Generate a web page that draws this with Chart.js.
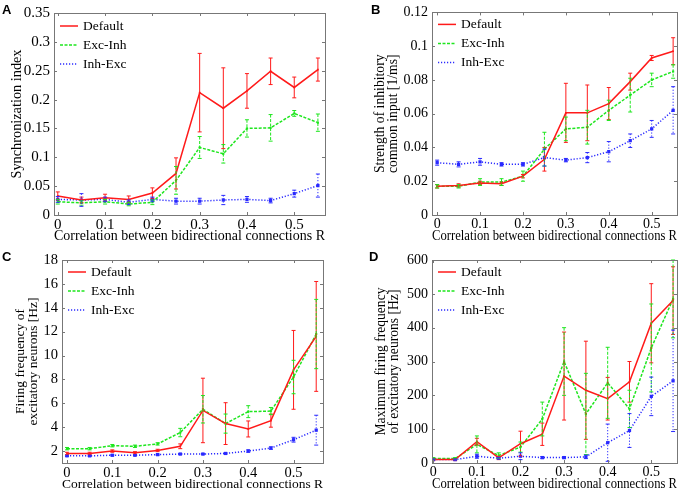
<!DOCTYPE html>
<html>
<head>
<meta charset="utf-8">
<script src="https://cdn.jsdelivr.net/npm/chart.js@4/dist/chart.umd.min.js"></script>
<style>
  body { margin: 0; background: #fff; }
  #wrap { position: relative; width: 689px; height: 493px; overflow: hidden; }
  canvas { position: absolute; }
  .tag { position: absolute; font: bold 13px "Liberation Sans", Arial, sans-serif; color: #000; }
</style>
</head>
<body>
<div id="wrap">
  <canvas id="chartA" width="345" height="245" style="left:0;top:0"></canvas>
  <canvas id="chartB" width="344" height="245" style="left:345px;top:0"></canvas>
  <canvas id="chartC" width="345" height="248" style="left:0;top:245px"></canvas>
  <canvas id="chartD" width="344" height="248" style="left:345px;top:245px"></canvas>
  <div class="tag" style="left:2px;top:2px">A</div>
  <div class="tag" style="left:371px;top:2px">B</div>
  <div class="tag" style="left:2px;top:249px">C</div>
  <div class="tag" style="left:369px;top:249px">D</div>
</div>
<script>
// x values (correlation R) and tick labels
const R = [0, 0.05, 0.1, 0.15, 0.2, 0.25, 0.3, 0.35, 0.4, 0.45, 0.5, 0.55];
const xTicks = [0, 0.1, 0.2, 0.3, 0.4, 0.5];
const seriesNames = ['Default', 'Exc-Inh', 'Inh-Exc'];

// A: synchronization index
const syncDefault = [0.033, 0.026, 0.030, 0.027, 0.038, 0.072, 0.212, 0.185, 0.215, 0.249, 0.221, 0.252];
const syncDefaultErr = [0.007, 0.005, 0.006, 0.006, 0.009, 0.027, 0.068, 0.070, 0.030, 0.023, 0.018, 0.020];
const syncExcInh = [0.023, 0.021, 0.023, 0.019, 0.022, 0.060, 0.117, 0.106, 0.150, 0.151, 0.176, 0.160];
const syncExcInhErr = [0.004, 0.004, 0.004, 0.003, 0.004, 0.024, 0.019, 0.016, 0.015, 0.023, 0.005, 0.015];
const syncInhExc = [0.027, 0.026, 0.027, 0.022, 0.027, 0.024, 0.024, 0.026, 0.027, 0.025, 0.037, 0.051];
const syncInhExcErr = [0.005, 0.011, 0.004, 0.004, 0.004, 0.005, 0.005, 0.008, 0.005, 0.004, 0.006, 0.020];
const syncTicks = [0, 0.05, 0.1, 0.15, 0.2, 0.25, 0.3, 0.35];

// B: strength of inhibitory common input
const inhDefault = [0.017, 0.0175, 0.019, 0.0185, 0.023, 0.033, 0.0605, 0.0605, 0.066, 0.079, 0.093, 0.097];
const inhDefaultErr = [0.001, 0.001, 0.001, 0.001, 0.001, 0.007, 0.0175, 0.0165, 0.0095, 0.005, 0.0015, 0.008];
const inhExcInh = [0.017, 0.017, 0.0195, 0.0195, 0.023, 0.039, 0.051, 0.052, 0.062, 0.071, 0.080, 0.085];
const inhExcInhErr = [0.001, 0.001, 0.002, 0.002, 0.003, 0.010, 0.007, 0.010, 0.006, 0.010, 0.004, 0.004];
const inhInhExc = [0.031, 0.030, 0.0315, 0.030, 0.030, 0.034, 0.0325, 0.034, 0.0375, 0.044, 0.051, 0.062];
const inhInhExcErr = [0.0015, 0.0015, 0.002, 0.001, 0.001, 0.005, 0.001, 0.003, 0.006, 0.004, 0.005, 0.014];
const inhTicks = [0, 0.02, 0.04, 0.06, 0.08, 0.1, 0.12];

// C: firing frequency of excitatory neurons
const rateDefault = [1.8, 1.8, 2.0, 1.85, 2.05, 2.4, 5.4, 4.3, 3.85, 4.55, 8.8, 11.6];
const rateDefaultErr = [0.1, 0.1, 0.1, 0.1, 0.1, 0.2, 2.7, 1.75, 0.67, 0.55, 3.3, 4.6];
const rateExcInh = [2.2, 2.2, 2.45, 2.4, 2.6, 3.55, 5.5, 4.3, 5.3, 5.35, 8.2, 11.8];
const rateExcInhErr = [0.1, 0.1, 0.1, 0.1, 0.1, 0.35, 1.15, 0.8, 0.5, 0.3, 1.4, 2.9];
const rateInhExc = [1.6, 1.6, 1.65, 1.65, 1.7, 1.75, 1.75, 1.8, 2.0, 2.25, 2.95, 3.75];
const rateInhExcErr = [0.05, 0.05, 0.05, 0.05, 0.05, 0.05, 0.05, 0.05, 0.1, 0.1, 0.2, 1.25];
const rateTicks = [2, 4, 6, 8, 10, 12, 14, 16, 18];

// D: maximum firing frequency of excitatory neurons
const maxDefault = [10, 10, 63, 15, 57, 85, 257, 215, 190, 240, 413, 480];
const maxDefaultErr = [3, 3, 10, 5, 37, 33, 130, 145, 63, 60, 117, 100];
const maxExcInh = [13, 13, 55, 22, 47, 130, 300, 145, 237, 160, 340, 485];
const maxExcInhErr = [3, 3, 25, 8, 15, 50, 100, 120, 105, 55, 130, 115];
const maxInhExc = [10, 10, 20, 14, 20, 16, 16, 18, 60, 96, 197, 243];
const maxInhExcErr = [2, 2, 6, 3, 10, 3, 3, 5, 55, 50, 57, 150];
const maxTicks = [0, 100, 200, 300, 400, 500, 600];

const SERIF = '"Liberation Serif", "Times New Roman", serif';
const styles = [
  { color: '#ff1a1a', dash: [], radius: 1.2 },
  { color: '#1ee61e', dash: [3, 1.5], radius: 1.5 },
  { color: '#2a2aff', dash: [1.2, 1.8], radius: 2.3 }
];

function fmt(v) { return String(+v.toFixed(3)); }

// error bars, frame, inner tick marks and legend
const extras = {
  id: 'extras',
  afterDatasetsDraw(chart) {
    const ctx = chart.ctx, a = chart.chartArea;
    const xs = chart.scales.x, ys = chart.scales.y;
    ctx.save();
    ctx.beginPath();
    ctx.rect(a.left, a.top - 1, a.right - a.left, a.bottom - a.top + 2);
    ctx.clip();
    chart.data.datasets.forEach(ds => {
      ctx.strokeStyle = ds.borderColor;
      ctx.lineWidth = 1;
      ds.data.forEach((p, i) => {
        const e = ds.errors[i];
        const x = xs.getPixelForValue(p.x);
        const t = ys.getPixelForValue(p.y + e), b = ys.getPixelForValue(p.y - e);
        ctx.setLineDash(ds.borderDash);
        ctx.beginPath(); ctx.moveTo(x, t); ctx.lineTo(x, b); ctx.stroke();
        ctx.setLineDash([]);
        ctx.beginPath();
        ctx.moveTo(x - 2, t); ctx.lineTo(x + 2, t);
        ctx.moveTo(x - 2, b); ctx.lineTo(x + 2, b);
        ctx.stroke();
      });
    });
    ctx.restore();
  },
  afterDraw(chart) {
    const ctx = chart.ctx, a = chart.chartArea;
    const xs = chart.scales.x, ys = chart.scales.y;
    const lg = chart.options.plugins.extras;
    ctx.save();
    ctx.strokeStyle = '#777';
    ctx.lineWidth = 1;
    ctx.strokeRect(Math.round(a.left) + 0.5, Math.round(a.top) + 0.5, Math.round(a.right - a.left), Math.round(a.bottom - a.top));
    ctx.beginPath();
    xs.ticks.forEach(t => {
      const x = Math.round(xs.getPixelForValue(t.value)) + 0.5;
      ctx.moveTo(x, a.bottom); ctx.lineTo(x, a.bottom - 3);
      ctx.moveTo(x, a.top); ctx.lineTo(x, a.top + 3);
    });
    ys.ticks.forEach(t => {
      const y = Math.round(ys.getPixelForValue(t.value)) + 0.5;
      ctx.moveTo(a.left, y); ctx.lineTo(a.left + 3, y);
      ctx.moveTo(a.right, y); ctx.lineTo(a.right - 3, y);
    });
    ctx.stroke();
    // legend inside the plot, top left
    ctx.font = lg.fontSize + 'px ' + SERIF;
    ctx.textBaseline = 'middle';
    ctx.fillStyle = '#000';
    chart.data.datasets.forEach((ds, k) => {
      const y = a.top + lg.top + k * 19;
      ctx.strokeStyle = ds.borderColor;
      ctx.lineWidth = 1.5;
      ctx.setLineDash(ds.borderDash);
      ctx.beginPath(); ctx.moveTo(a.left + 6, y); ctx.lineTo(a.left + 24, y); ctx.stroke();
      ctx.fillText(ds.label, a.left + lg.textX, y);
    });
    ctx.restore();
  }
};

function makeChart(id, p) {
  const sets = p.series.map((vals, k) => ({
    label: seriesNames[k],
    data: R.map((r, i) => ({ x: r, y: vals[i] })),
    errors: p.errors[k],
    borderColor: styles[k].color,
    backgroundColor: styles[k].color,
    borderDash: styles[k].dash,
    borderWidth: 1.5,
    pointStyle: 'rect',
    pointRadius: styles[k].radius,
    pointBorderWidth: 0
  }));
  return new Chart(document.getElementById(id).getContext('2d'), {
    type: 'line',
    data: { datasets: sets },
    options: {
      responsive: false,
      animation: false,
      layout: { padding: { top: p.pad[0], right: p.pad[1], left: 0, bottom: 0 } },
      plugins: {
        legend: { display: false },
        tooltip: { enabled: false },
        extras: { fontSize: p.legendFont, top: p.legendTop, textX: 29 }
      },
      scales: {
        x: {
          type: 'linear', min: p.xr[0], max: p.xr[1],
          afterFit(s) { s.height = 30; },
          afterBuildTicks(s) { s.ticks = xTicks.map(v => ({ value: v })); },
          grid: { display: false, drawTicks: false }, border: { display: false },
          ticks: { color: '#000', padding: 1, maxRotation: 0, autoSkip: false,
                   font: { family: SERIF, size: p.tickFont }, callback: v => fmt(v) },
          title: { display: true, text: 'Correlation between bidirectional connections R', color: '#000',
                   padding: 0, font: { family: SERIF, size: p.titleFont } }
        },
        y: {
          min: p.yr[0], max: p.yr[1],
          afterFit(s) { s.width = p.yWidth; },
          afterBuildTicks(s) { s.ticks = p.yTicks.map(v => ({ value: v })); },
          grid: { display: false, drawTicks: false }, border: { display: false },
          ticks: { color: '#000', padding: 4, autoSkip: false,
                   font: { family: SERIF, size: p.tickFont }, callback: v => fmt(v) },
          title: { display: true, text: p.yTitle, color: '#000', padding: { top: p.yTitlePad, bottom: 0 },
                   font: { family: SERIF, size: p.titleFont, lineHeight: 0.95 } }
        }
      }
    },
    plugins: [extras]
  });
}

window.addEventListener('load', function () {
  makeChart('chartA', {
    series: [syncDefault, syncExcInh, syncInhExc],
    errors: [syncDefaultErr, syncExcInhErr, syncInhExcErr],
    yTicks: syncTicks, yr: [0, 0.35], xr: [-0.008, 0.565],
    yTitle: 'Synchronization index', yWidth: 54, yTitlePad: 10.5, pad: [10, 20],
    tickFont: 15, titleFont: 14.3, legendFont: 13.5, legendTop: 13
  });
  makeChart('chartB', {
    series: [inhDefault, inhExcInh, inhInhExc],
    errors: [inhDefaultErr, inhExcInhErr, inhInhExcErr],
    yTicks: inhTicks, yr: [0, 0.12], xr: [-0.012, 0.559],
    yTitle: ['Strength of inhibitory', 'common input [1/ms]'], yWidth: 87, yTitlePad: 29, pad: [11, 12],
    tickFont: 14, titleFont: 13.7, legendFont: 13.5, legendTop: 12
  });
  makeChart('chartC', {
    series: [rateDefault, rateExcInh, rateInhExc],
    errors: [rateDefaultErr, rateExcInhErr, rateInhExcErr],
    yTicks: rateTicks, yr: [1, 18], xr: [-0.011, 0.565],
    yTitle: ['Firing frequency of', 'excitatory neurons [Hz]'], yWidth: 62, yTitlePad: 14, pad: [15, 22],
    tickFont: 14.5, titleFont: 13.5, legendFont: 13.5, legendTop: 12
  });
  makeChart('chartD', {
    series: [maxDefault, maxExcInh, maxInhExc],
    errors: [maxDefaultErr, maxExcInhErr, maxInhExcErr],
    yTicks: maxTicks, yr: [0, 600], xr: [-0.003, 0.559],
    yTitle: ['Maximum firing frequency', 'of excitatory neurons [Hz]'], yWidth: 87, yTitlePad: 30, pad: [15, 12],
    tickFont: 14, titleFont: 13.6, legendFont: 13.5, legendTop: 12
  });
});
</script>
</body>
</html>
